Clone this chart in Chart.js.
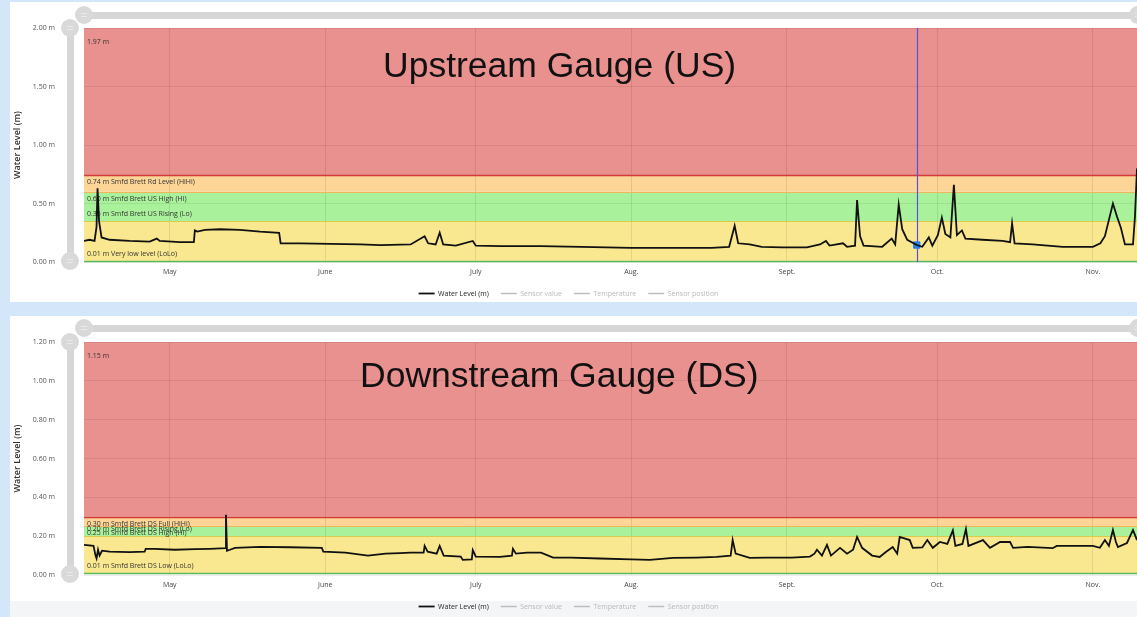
<!DOCTYPE html>
<html lang="en">
<head>
<meta charset="utf-8">
<title>Smfd Brett water levels</title>
<script src="https://cdn.jsdelivr.net/npm/chart.js"></script>
<style>
    html, body { margin: 0; padding: 0; }
    body {
        width: 1137px;
        height: 617px;
        overflow: hidden;
        position: relative;
        background: #d3e6fa;
        font-family: 'Open Sans', sans-serif;
    }
    .panel { position: absolute; background: #fff; }
    .bar { position: absolute; background: #d6d6d6; border-radius: 4px; }
    .knob { position: absolute; width: 18px; height: 18px; border-radius: 50%; background: #d9d9d9; }
    .knob::after {
        content: ''; position: absolute; left: 6px; top: 7px; width: 6px; height: 2px;
        border-top: 1px solid #e9e9e9; border-bottom: 1px solid #e9e9e9;
    }
    canvas { position: absolute; left: 0; }
    .gaugeTitle {
        position: absolute;
        font-family: 'Liberation Sans', Arial, sans-serif;
        font-size: 35.5px;
        line-height: 36px;
        color: #111;
        white-space: nowrap;
    }
</style>
</head>
<body>

<div class="panel" style="left:10px; top:2px; width:1127px; height:300px"></div>
<div class="panel" style="left:10px; top:316px; width:1127px; height:285px"></div>
<div class="panel" style="left:10px; top:601px; width:1127px; height:16px; background:#f4f5f7"></div>

<!-- slider decorations, upstream -->
<div class="bar" style="left:84px; top:12px; width:1060px; height:7px"></div>
<div class="knob" style="left:75px; top:6px"></div>
<div class="knob" style="left:1129px; top:6px"></div>
<div class="bar" style="left:67px; top:28px; width:7px; height:234px"></div>
<div class="knob" style="left:61px; top:19px"></div>
<div class="knob" style="left:61px; top:252px"></div>

<!-- slider decorations, downstream -->
<div class="bar" style="left:84px; top:325px; width:1060px; height:7px"></div>
<div class="knob" style="left:75px; top:319px"></div>
<div class="knob" style="left:1129px; top:319px"></div>
<div class="bar" style="left:67px; top:342px; width:7px; height:233px"></div>
<div class="knob" style="left:61px; top:333px"></div>
<div class="knob" style="left:61px; top:565px"></div>

<canvas id="usChart" width="1137" height="310" style="top:0px"></canvas>
<canvas id="dsChart" width="1137" height="305" style="top:318px"></canvas>

<div class="gaugeTitle" style="left:383px; top:47px">Upstream Gauge (US)</div>
<div class="gaugeTitle" style="left:360px; top:357px">Downstream Gauge (DS)</div>

<script>
// x values are days counted from 1 May
const monthDays = [0, 31, 61, 92, 123, 153, 184];
const monthLabels = ['May', 'June', 'July', 'Aug.', 'Sept.', 'Oct.', 'Nov.'];
const xMin = -17.1;
const xMax = 192.8;

// Upstream gauge (m)
const usDays = [
    -17.1, -16, -15, -14.6, -14.4, -14.1, -13.6, -12, -8, -4,
    -2.6, -2, 2, 4.8, 5.0, 5.5, 7, 10, 14, 18,
    21.8, 22.1, 26, 32, 38, 42, 48, 50.8, 51.5, 53,
    53.8, 54.5, 57, 60.4, 61, 66, 74, 82, 92, 100,
    108, 111.5, 112.6, 113.3, 115.6, 118, 122, 127, 129.6, 130.8,
    131.5, 134.2, 135, 136.6, 137.0, 137.6, 138.3, 142, 143.9, 144.6,
    145.3, 146, 147, 148.9, 150, 151.3, 152, 153.1, 153.9, 154.6,
    155.6, 156.3, 156.9, 157.9, 158.6, 162, 166, 167.5, 167.9, 168.4,
    172, 178, 184, 185.5, 186.4, 188, 188.8, 189.6, 190.4, 192,
    192.4, 192.8
];
const usLevels = [
    0.18, 0.19, 0.18, 0.30, 0.63, 0.35, 0.21, 0.19, 0.18, 0.175,
    0.20, 0.18, 0.17, 0.17, 0.27, 0.26, 0.275, 0.28, 0.275, 0.26,
    0.25, 0.16, 0.16, 0.155, 0.15, 0.145, 0.15, 0.22, 0.16, 0.15,
    0.25, 0.15, 0.14, 0.18, 0.14, 0.135, 0.135, 0.13, 0.12, 0.12,
    0.12, 0.13, 0.31, 0.16, 0.15, 0.13, 0.125, 0.125, 0.15, 0.18,
    0.14, 0.16, 0.13, 0.14, 0.53, 0.22, 0.14, 0.13, 0.20, 0.15,
    0.49, 0.28, 0.19, 0.145, 0.13, 0.21, 0.14, 0.23, 0.38, 0.24,
    0.21, 0.66, 0.23, 0.27, 0.20, 0.19, 0.18, 0.17, 0.33, 0.16,
    0.15, 0.13, 0.13, 0.16, 0.22, 0.50, 0.39, 0.29, 0.15, 0.15,
    0.39, 0.80
];
const usZoneLevels = [0.01, 0.35, 0.60, 0.74];
const usZoneLabels = [
    '0.01 m Very low level (LoLo)',
    '0.35 m Smfd Brett US Rising (Lo)',
    '0.60 m Smfd Brett US High (Hi)',
    '0.74 m Smfd Brett Rd Level (HiHi)'
];
const usTopLabel = '1.97 m';
const usCursorDay = 148.9;
const usCursorLevel = 0.145;

// Downstream gauge (m)
const dsDays = [
    -17.1, -15.2, -14.8, -14.6, -14.3, -14, -13.5, -12, -8, -5,
    -4.8, -3, 1, 5, 8, 11.1, 11.2, 11.4, 12, 13,
    18, 24, 30.3, 30.6, 35, 39.5, 43, 45.9, 48, 50.6,
    50.8, 51.4, 53.2, 53.8, 54.6, 58, 58.4, 60.2, 60.4, 61,
    65.8, 68.2, 68.4, 69, 71.2, 74, 76.4, 80, 85.7, 92,
    95.7, 100.3, 105, 109, 111.8, 112.2, 112.8, 115.6, 119, 124,
    127.6, 128.5, 129, 130, 131, 131.8, 133.6, 135, 136.2, 137,
    138, 140, 141.5, 142.8, 144.1, 145, 145.5, 147.5, 148.1, 150,
    151, 152.1, 153.5, 155, 156.1, 156.6, 158, 158.7, 159.2, 162.1,
    163.5, 165.5, 167.5, 168.1, 171, 176, 176.8, 184, 185.4, 186.4,
    187.2, 188, 188.6, 189, 190.8, 192, 192.8
];
const dsLevels = [
    0.155, 0.15, 0.10, 0.085, 0.13, 0.10, 0.125, 0.12, 0.118, 0.12,
    0.135, 0.135, 0.13, 0.133, 0.135, 0.138, 0.31, 0.125, 0.13, 0.14,
    0.145, 0.143, 0.14, 0.12, 0.115, 0.10, 0.11, 0.113, 0.115, 0.115,
    0.15, 0.12, 0.11, 0.15, 0.10, 0.095, 0.078, 0.08, 0.128, 0.095,
    0.093, 0.10, 0.135, 0.11, 0.115, 0.115, 0.09, 0.09, 0.085, 0.08,
    0.078, 0.088, 0.09, 0.093, 0.10, 0.18, 0.11, 0.088, 0.09, 0.09,
    0.095, 0.11, 0.13, 0.10, 0.155, 0.10, 0.14, 0.11, 0.13, 0.196,
    0.14, 0.10, 0.093, 0.12, 0.144, 0.11, 0.196, 0.18, 0.14, 0.142,
    0.18, 0.14, 0.17, 0.16, 0.23, 0.15, 0.16, 0.237, 0.15, 0.18,
    0.14, 0.17, 0.17, 0.14, 0.145, 0.138, 0.15, 0.15, 0.14, 0.18,
    0.15, 0.232, 0.17, 0.144, 0.165, 0.232, 0.18
];
const dsZoneLevels = [0.01, 0.20, 0.25, 0.30];
const dsZoneLabels = [
    '0.01 m Smfd Brett DS Low (LoLo)',
    '0.20 m Smfd Brett DS Rising (Lo)',
    '0.25 m Smfd Brett DS High (Hi)',
    '0.30 m Smfd Brett DS Full (HiHi)'
];
const dsTopLabel = '1.15 m';

Chart.defaults.font.family = "'Open Sans', sans-serif";

// coloured alarm bands behind the grid, labels + cursor above it
const zonePlugin = {
    id: 'zones',
    beforeDraw(chart, args, opts) {
        const { ctx, chartArea: a } = chart;
        const y = chart.scales.y;
        const edges = opts.levels.concat([y.max]);
        ctx.save();
        for (let i = 0; i < opts.levels.length; i++) {
            const top = y.getPixelForValue(edges[i + 1]);
            const bot = y.getPixelForValue(edges[i]);
            ctx.fillStyle = opts.fills[i];
            ctx.fillRect(a.left, top, a.right - a.left, bot - top);
        }
        ctx.restore();
    },
    beforeDatasetsDraw(chart, args, opts) {
        const { ctx, chartArea: a } = chart;
        const x = chart.scales.x;
        const y = chart.scales.y;
        ctx.save();
        opts.levels.forEach((v, i) => {
            const py = Math.round(y.getPixelForValue(v)) + 0.5;
            ctx.strokeStyle = opts.lines[i];
            ctx.lineWidth = (i === 0 || i === 3) ? 1.5 : 1;
            ctx.beginPath();
            ctx.moveTo(a.left, py);
            ctx.lineTo(a.right, py);
            ctx.stroke();
        });
        ctx.font = "7px 'Open Sans'";
        ctx.fillStyle = '#333';
        ctx.textBaseline = 'middle';
        opts.labels.forEach((t, i) => {
            const py = y.getPixelForValue(opts.levels[i]);
            ctx.fillText(t, a.left + 3, i < 2 ? py - 7 : py + 7);
        });
        ctx.fillText(opts.topLabel, a.left + 3, a.top + 14);
        if (opts.cursor != null) {
            const px = Math.round(x.getPixelForValue(opts.cursor)) + 0.5;
            ctx.strokeStyle = '#5a4de8';
            ctx.lineWidth = 1.2;
            ctx.beginPath();
            ctx.moveTo(px, a.top);
            ctx.lineTo(px, a.bottom);
            ctx.stroke();
        }
        ctx.restore();
    }
};

function buildGaugeChart(id, g) {
    const ctx = document.getElementById(id).getContext('2d');
    const datasets = [
        {
            label: 'Water Level (m)',
            data: g.days.map((d, i) => ({ x: d, y: g.levels[i] })),
            borderColor: '#111',
            backgroundColor: '#111',
            borderWidth: 1.8,
            pointRadius: 0
        },
        { label: 'Sensor value', data: [], borderColor: '#bdbdbd', borderWidth: 1.5, borderDash: [7, 3, 2, 3] },
        { label: 'Temperature', data: [], borderColor: '#bdbdbd', borderWidth: 1.5, borderDash: [3, 3] },
        { label: 'Sensor position', data: [], borderColor: '#bdbdbd', borderWidth: 1.5, borderDash: [7, 2] }
    ];
    if (g.cursor != null) {
        datasets.push({
            label: 'cursor',
            data: [{ x: g.cursor, y: g.cursorLevel }],
            pointStyle: 'rect',
            pointRadius: 4.5,
            backgroundColor: '#2b7de9',
            borderColor: '#2b7de9',
            showLine: false
        });
    }

    return new Chart(ctx, {
        type: 'line',
        data: { datasets: datasets },
        plugins: [zonePlugin],
        options: {
            responsive: false,
            animation: false,
            layout: { autoPadding: false, padding: { top: g.padTop, right: 0, bottom: 3, left: 0 } },
            scales: {
                x: {
                    type: 'linear',
                    min: xMin,
                    max: xMax,
                    afterBuildTicks: (scale) => { scale.ticks = monthDays.map(v => ({ value: v })); },
                    afterFit: (scale) => {
                        scale.height = 16;
                        scale.paddingLeft = 0;
                        scale.paddingRight = 0;
                    },
                    ticks: {
                        padding: 6,
                        color: '#444',
                        font: { size: 7 },
                        maxRotation: 0,
                        autoSkip: false,
                        callback: (v, i) => monthLabels[i]
                    },
                    grid: { color: 'rgba(0,0,0,0.09)', drawTicks: false },
                    border: { display: false }
                },
                y: {
                    min: 0,
                    max: g.yMax,
                    afterFit: (scale) => {
                        scale.width = 84;
                        scale.paddingTop = 4;
                        scale.paddingBottom = 4;
                    },
                    ticks: {
                        stepSize: g.yStep,
                        padding: 29,
                        color: '#555',
                        font: { size: 7 },
                        callback: (v) => v.toFixed(2) + ' m'
                    },
                    title: {
                        display: true,
                        text: 'Water Level (m)',
                        color: '#333',
                        font: { size: 9, weight: '600' },
                        padding: { top: 12, bottom: 0 }
                    },
                    grid: { color: 'rgba(0,0,0,0.07)', drawTicks: false },
                    border: { display: false }
                }
            },
            plugins: {
                legend: {
                    position: 'bottom',
                    labels: {
                        usePointStyle: true,
                        pointStyle: 'line',
                        pointStyleWidth: 16,
                        boxHeight: 7,
                        padding: 12,
                        font: { size: 7 },
                        generateLabels(chart) {
                            const items = Chart.defaults.plugins.legend.labels.generateLabels(chart);
                            return items.filter(it => it.datasetIndex < 4).map(it => {
                                it.fontColor = it.datasetIndex === 0 ? '#222' : '#b9b9b9';
                                return it;
                            });
                        }
                    }
                },
                tooltip: { enabled: false },
                zones: {
                    levels: g.zoneLevels,
                    labels: g.zoneLabels,
                    topLabel: g.topLabel,
                    cursor: g.cursor,
                    fills: ['#fae890', '#a9f29b', '#fcd597', '#e9918f'],
                    lines: ['#5cb85c', '#d9cc4c', '#efb45c', '#d43a3a']
                }
            }
        }
    });
}

buildGaugeChart('usChart', {
    days: usDays, levels: usLevels, yMax: 2, yStep: 0.5, padTop: 28,
    zoneLevels: usZoneLevels, zoneLabels: usZoneLabels, topLabel: usTopLabel,
    cursor: usCursorDay, cursorLevel: usCursorLevel
});

buildGaugeChart('dsChart', {
    days: dsDays, levels: dsLevels, yMax: 1.2, yStep: 0.2, padTop: 24,
    zoneLevels: dsZoneLevels, zoneLabels: dsZoneLabels, topLabel: dsTopLabel,
    cursor: null
});
</script>

</body>
</html>
